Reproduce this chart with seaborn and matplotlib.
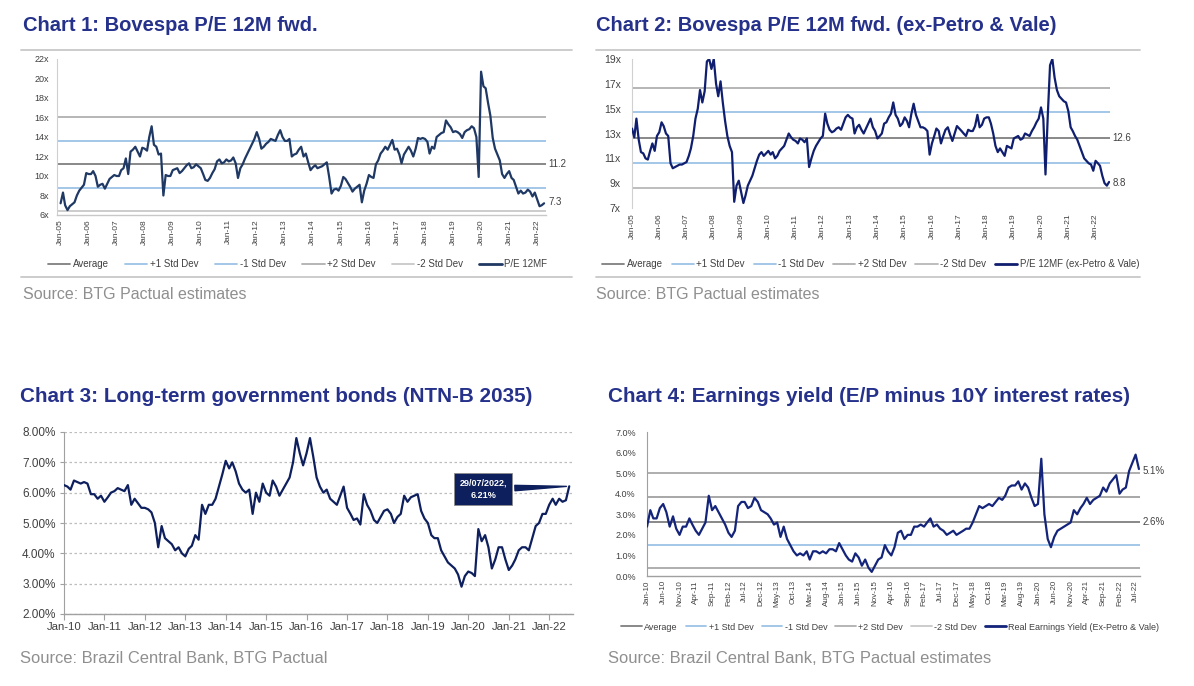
import numpy as np
import pandas as pd
import matplotlib
matplotlib.use('Agg')
import matplotlib.pyplot as plt
import matplotlib.dates as mdates
from matplotlib.lines import Line2D
from matplotlib.ticker import FuncFormatter
import seaborn as sns

sns.set_theme(style='white')
plt.rcParams['font.family'] = ['Liberation Sans', 'DejaVu Sans']

# ---------------- data (monthly) ----------------
# chart 1: Bovespa P/E 12M fwd, Jan-05 .. Apr-22
pe_bovespa = [
    7.2, 8.3, 7.0, 6.5, 6.9, 7.1, 7.3, 8.0, 8.5, 8.8, 9.1, 10.3,
    10.2, 10.2, 10.5, 10.0, 8.9, 9.1, 9.2, 8.7, 9.2, 9.7, 9.9, 10.1,
    10.0, 10.0, 10.6, 10.8, 11.8, 10.2, 12.5, 12.7, 13.0, 12.5, 12.0, 12.9,
    12.8, 12.6, 14.0, 15.1, 13.2, 13.0, 12.2, 12.3, 8.0, 10.1, 10.0, 10.0,
    10.6, 10.7, 10.8, 10.3, 10.5, 10.8, 11.1, 11.3, 10.8, 10.9, 11.2, 11.0,
    10.8, 10.2, 9.6, 9.5, 9.8, 10.3, 10.7, 11.5, 11.7, 11.3, 11.4, 11.7,
    11.5, 11.6, 11.9, 11.3, 9.8, 10.8, 11.2, 11.8, 12.3, 12.8, 13.3, 13.8,
    14.5, 13.8, 12.8, 13.0, 13.3, 13.5, 13.8, 13.7, 13.6, 14.2, 14.7, 14.0,
    13.6, 13.6, 13.8, 12.0, 12.2, 12.3, 12.7, 13.0, 12.0, 12.3, 11.4, 10.6,
    10.9, 11.1, 10.8, 10.9, 11.0, 11.2, 11.4, 9.9, 8.2, 8.6, 8.7, 8.5,
    9.0, 9.9, 9.7, 9.3, 8.9, 8.4, 8.7, 8.9, 9.1, 7.3, 8.5, 9.2,
    10.1, 9.9, 9.8, 11.2, 11.6, 12.3, 12.6, 13.0, 12.7, 13.2, 13.7, 12.7,
    12.8, 12.2, 11.3, 12.2, 12.6, 13.0, 12.6, 12.0, 12.8, 13.9, 13.8, 13.9,
    13.8, 13.5, 12.3, 13.0, 12.8, 14.0, 14.2, 14.4, 14.5, 15.7, 15.3, 15.0,
    14.5, 14.6, 14.5, 14.3, 13.9, 14.5, 14.7, 14.8, 15.1, 14.9, 14.0, 9.9,
    20.7, 19.2, 19.0, 17.5, 16.2, 13.9, 12.8, 12.2, 11.6, 10.2, 9.8, 10.2,
    10.5, 9.8, 9.6, 8.9, 8.2, 8.5, 8.2, 8.3, 8.6, 8.4, 7.9, 8.3,
    7.6, 6.9, 7.0, 7.2,
]
pe_bovespa_bands = [11.2, 13.6, 8.8, 16.0, 6.4]   # avg, +1sd, -1sd, +2sd, -2sd

# chart 2: Bovespa P/E 12M fwd ex-Petro & Vale, Jan-05 .. Jul-22
pe_ex_pv = [
    13.4, 12.7, 14.2, 12.5, 11.5, 11.4, 11.0, 10.9, 11.6, 12.2, 11.6, 12.8,
    13.1, 13.9, 13.6, 13.0, 12.8, 10.6, 10.2, 10.3, 10.4, 10.5, 10.5, 10.6,
    10.7, 11.2, 11.8, 12.8, 14.2, 15.0, 16.5, 15.5, 16.4, 18.8, 19.0, 18.2,
    19.0, 17.0, 16.0, 17.2, 15.5, 14.0, 12.8, 12.0, 11.5, 7.5, 8.8, 9.2,
    8.3, 7.4, 8.0, 8.8, 9.2, 9.6, 10.2, 10.8, 11.3, 11.5, 11.2, 11.4,
    11.6, 11.3, 11.5, 11.0, 11.2, 11.6, 11.8, 12.0, 12.5, 13.0, 12.7, 12.5,
    12.4, 12.2, 12.6, 12.5, 12.3, 12.6, 10.3, 11.0, 11.6, 12.0, 12.3, 12.6,
    12.8, 14.6, 13.8, 13.3, 13.1, 13.2, 13.4, 13.5, 13.3, 13.8, 14.3, 14.5,
    14.3, 14.2, 13.0, 13.5, 13.7, 13.3, 13.0, 13.4, 13.8, 14.2, 13.5, 13.2,
    12.6, 12.8, 13.0, 13.8, 13.9, 14.3, 14.6, 15.5, 14.5, 14.2, 13.6, 13.8,
    14.3, 14.0, 13.5, 14.6, 15.4, 14.5, 14.0, 13.5, 13.5, 13.4, 13.2, 11.3,
    12.2, 12.8, 13.4, 13.2, 12.2, 12.8, 13.3, 13.5, 12.9, 12.4, 13.0, 13.6,
    13.4, 13.2, 13.0, 12.8, 13.3, 13.2, 13.2, 13.6, 14.5, 13.5, 13.7, 14.2,
    14.3, 14.3, 13.8, 13.0, 12.0, 11.5, 11.8, 11.5, 11.2, 12.0, 11.9, 11.8,
    12.6, 12.7, 12.8, 12.5, 12.6, 13.0, 12.9, 12.8, 13.2, 13.5, 13.9, 14.2,
    15.1, 14.2, 9.7, 14.5, 18.5, 19.0, 17.5, 16.5, 16.0, 15.8, 15.6, 15.5,
    14.8, 13.5, 13.2, 12.8, 12.5, 12.0, 11.5, 11.0, 10.8, 10.6, 10.5, 10.0,
    10.8, 10.6, 10.4, 9.6, 9.0, 8.8, 9.1,
]
pe_ex_pv_bands = [12.6, 14.7, 10.6, 16.7, 8.6]

# chart 3: NTN-B 2035 yield (%), Jan-10 .. Jul-22
ntnb_2035 = [
    6.25, 6.2, 6.1, 6.4, 6.35, 6.3, 6.35, 6.3, 5.95, 5.95, 5.8, 5.9,
    5.7, 5.85, 6.0, 6.05, 6.15, 6.1, 6.05, 6.25, 5.6, 5.8, 5.65, 5.5,
    5.5, 5.45, 5.35, 5.0, 4.2, 4.9, 4.5, 4.4, 4.3, 4.1, 4.2, 4.0,
    3.9, 4.15, 4.25, 4.6, 4.45, 5.6, 5.3, 5.6, 5.6, 5.8, 6.2, 6.6,
    7.05, 6.8, 7.0, 6.7, 6.3, 6.1, 6.0, 6.1, 5.3, 6.0, 5.7, 6.3,
    6.0, 5.9, 6.4, 6.2, 5.9, 6.1, 6.3, 6.5, 7.0, 7.8, 7.3, 6.9,
    7.3, 7.8, 7.2, 6.5, 6.2, 6.0, 6.1, 5.8, 5.7, 5.6, 5.9, 6.2,
    5.5, 5.3, 5.1, 5.15, 4.95, 5.95, 5.6, 5.4, 5.1, 5.0, 5.2, 5.4,
    5.45, 5.3, 5.0, 5.2, 5.3, 5.9, 5.7, 5.85, 5.9, 5.95, 5.4, 5.15,
    5.0, 4.6, 4.5, 4.5, 4.1, 3.9, 3.7, 3.6, 3.5, 3.3, 2.9, 3.25,
    3.4, 3.35, 3.25, 4.8, 4.4, 4.6, 4.2, 3.5, 3.8, 4.2, 4.2, 3.8,
    3.45, 3.6, 3.8, 4.1, 4.2, 4.2, 4.1, 4.5, 4.9, 5.0, 5.3, 5.3,
    5.6, 5.8, 5.6, 5.8, 5.7, 5.75, 6.21,
]

# chart 4: real earnings yield (%), Jan-10 .. Aug-22
real_ey = [
    2.4, 3.2, 2.8, 2.8, 3.3, 3.5, 3.1, 2.4, 2.9, 2.3, 2.0, 2.4,
    2.4, 2.8, 2.5, 2.2, 2.0, 2.3, 2.6, 3.9, 3.2, 3.4, 3.1, 2.8,
    2.5, 2.1, 1.9, 2.2, 3.4, 3.6, 3.6, 3.3, 3.4, 3.8, 3.6, 3.2,
    3.1, 3.0, 2.8, 2.5, 2.6, 1.9, 2.4, 1.8, 1.5, 1.2, 1.0, 1.1,
    1.0, 1.2, 0.8, 1.2, 1.2, 1.1, 1.2, 1.1, 1.3, 1.3, 1.2, 1.6,
    1.3, 1.0, 0.8, 0.7, 1.1, 0.9, 0.5, 0.8, 0.4, 0.2, 0.5, 0.8,
    0.9, 1.5, 1.2, 1.0, 1.4, 2.1, 2.2, 1.8, 2.0, 2.0, 2.4, 2.4,
    2.5, 2.4, 2.6, 2.8, 2.4, 2.5, 2.3, 2.2, 2.0, 2.1, 2.2, 2.0,
    2.1, 2.2, 2.3, 2.3, 2.6, 3.0, 3.4, 3.3, 3.4, 3.5, 3.4, 3.6,
    3.8, 3.7, 3.9, 4.3, 4.4, 4.4, 4.6, 4.2, 4.5, 4.3, 3.8, 3.4,
    3.5, 5.7, 3.0, 1.8, 1.4, 1.9, 2.2, 2.3, 2.4, 2.5, 2.6, 3.2,
    3.0, 3.3, 3.5, 3.8, 3.5, 3.7, 3.8, 3.9, 4.3, 4.1, 4.5, 4.7,
    4.9, 4.0, 4.2, 4.3, 5.1, 5.5, 5.9, 5.2,
]
real_ey_bands = [2.64, 3.85, 1.53, 5.02, 0.40]

band_labels = ['Average', '+1 Std Dev', '-1 Std Dev', '+2 Std Dev', '-2 Std Dev']

# ---------------- layout helpers ----------------
W, H = 1194, 686
TITLE_C = '#25318A'
SRC_C = '#8F8F8F'
TXT = '#404040'
AVG_C = '#7F7F7F'
SD1_C = '#9DC3E6'
SD2_C = '#B0B0B0'


def rect(left, top, right, bottom):
    return [left / W, 1 - bottom / H, (right - left) / W, (bottom - top) / H]


def fy(y):
    return 1 - y / H


fig = plt.figure(figsize=(W / 100, H / 100), dpi=100)


def sep(x0, x1, y):
    fig.add_artist(Line2D([x0 / W, x1 / W], [fy(y), fy(y)], color='#C8C8C8', lw=1.3,
                          transform=fig.transFigure))


def header(x, y, title, source, ys, tsize=14.5, ssize=11.5):
    fig.text(x / W, fy(y), title, fontsize=tsize, fontweight='bold', color=TITLE_C, va='baseline')
    fig.text(x / W, fy(ys), source, fontsize=ssize, color=SRC_C, va='baseline')


def bands(ax, levels, colors):
    for lev, col in zip(levels, colors):
        ax.axhline(lev, color=col, lw=1.3, zorder=1)


def legend(ax, colors, line_c, last, x0, x1, y, fs, colspace):
    handles = [Line2D([], [], color=c, lw=1.3) for c in colors]
    handles.append(Line2D([], [], color=line_c, lw=2))
    ax.legend(handles, band_labels + [last], loc='center', ncol=6,
              bbox_to_anchor=((x0 + x1) / 2 / W, fy(y)), bbox_transform=fig.transFigure,
              frameon=False, fontsize=fs, handlelength=2.3, handletextpad=0.25,
              columnspacing=colspace, labelcolor=TXT)


def side_label(ax, text, yval, fs=7):
    ax.annotate(text, xy=(1, yval), xycoords=('axes fraction', 'data'), xytext=(2, 0),
                textcoords='offset points', va='center', ha='left', fontsize=fs, color=TXT)


def clean(ax, left_c='#D0D0D0', bottom=True):
    for s in ['top', 'right']:
        ax.spines[s].set_visible(False)
    ax.spines['left'].set_color(left_c)
    ax.spines['left'].set_linewidth(0.8)
    if bottom:
        ax.spines['bottom'].set_color('#C8C8C8')
        ax.spines['bottom'].set_linewidth(1.0)
    else:
        ax.spines['bottom'].set_visible(False)
    ax.set_xlabel('')
    ax.set_ylabel('')


# ---------------- chart 1 ----------------
band_cols = [AVG_C, SD1_C, SD1_C, SD2_C, '#C8C8C8']
d1 = pd.date_range('2005-01-01', periods=len(pe_bovespa), freq='MS')
ax1 = fig.add_axes(rect(57, 59, 546, 215))
bands(ax1, pe_bovespa_bands, band_cols)
sns.lineplot(x=d1, y=pe_bovespa, ax=ax1, color='#1F3864', lw=1.6, zorder=3)
ax1.set_xlim(pd.Timestamp('2004-11-15'), d1[-1] + pd.Timedelta(days=25))
ax1.set_ylim(6, 22)
ax1.set_yticks(np.arange(6, 23, 2))
ax1.yaxis.set_major_formatter(FuncFormatter(lambda v, p: f'{v:.0f}x'))
ax1.xaxis.set_major_locator(mdates.YearLocator())
ax1.xaxis.set_major_formatter(mdates.DateFormatter('%b-%y'))
ax1.tick_params(axis='x', length=0, pad=3, labelsize=6, labelcolor=TXT, labelrotation=90)
ax1.tick_params(axis='y', length=0, pad=6, labelsize=6.5, labelcolor=TXT)
clean(ax1)
side_label(ax1, '11.2', pe_bovespa_bands[0])
side_label(ax1, '7.3', 7.3)
legend(ax1, band_cols, '#1F3864', 'P/E 12MF', 47, 548, 264, 7, 1.7)
header(23, 31, 'Chart 1: Bovespa P/E 12M fwd.', 'Source: BTG Pactual estimates', 299)
sep(21, 572, 50)
sep(21, 572, 277)

# ---------------- chart 2 ----------------
band_cols2 = [AVG_C, SD1_C, SD1_C, SD2_C, '#B8B8B8']
d2 = pd.date_range('2005-01-01', periods=len(pe_ex_pv), freq='MS')
ax2 = fig.add_axes(rect(632, 59, 1110, 208))
bands(ax2, pe_ex_pv_bands, band_cols2)
sns.lineplot(x=d2, y=pe_ex_pv, ax=ax2, color='#0F1E6E', lw=1.6, zorder=3)
ax2.set_xlim(d2[0], d2[-1] + pd.Timedelta(days=12))
ax2.set_ylim(7, 19)
ax2.set_yticks(np.arange(7, 20, 2))
ax2.yaxis.set_major_formatter(FuncFormatter(lambda v, p: f'{v:.0f}x'))
ax2.xaxis.set_major_locator(mdates.YearLocator())
ax2.xaxis.set_major_formatter(mdates.DateFormatter('%b-%y'))
ax2.tick_params(axis='x', length=0, pad=4, labelsize=6, labelcolor=TXT, labelrotation=90)
ax2.tick_params(axis='y', length=0, pad=8, labelsize=7.5, labelcolor=TXT)
clean(ax2, bottom=False)
side_label(ax2, '12.6', pe_ex_pv_bands[0])
side_label(ax2, '8.8', 9.0)
legend(ax2, band_cols2, '#0F1E6E', 'P/E 12MF (ex-Petro & Vale)', 605, 1136, 264, 7, 0.9)
header(596, 31, 'Chart 2: Bovespa P/E 12M fwd. (ex-Petro & Vale)', 'Source: BTG Pactual estimates', 299)
sep(596, 1140, 50)
sep(596, 1140, 277)

# ---------------- chart 3 ----------------
d3 = pd.date_range('2010-01-01', periods=len(ntnb_2035), freq='MS')
ax3 = fig.add_axes(rect(64, 432, 573, 614))
sns.lineplot(x=d3, y=ntnb_2035, ax=ax3, color='#0E1F5E', lw=1.6, zorder=3)
ax3.set_xlim(d3[0], pd.Timestamp('2022-08-04'))
ax3.set_ylim(2, 8)
ax3.set_yticks(np.arange(2, 9, 1))
ax3.yaxis.set_major_formatter(FuncFormatter(lambda v, p: f'{v:.2f}%'))
ax3.xaxis.set_major_locator(mdates.YearLocator())
ax3.xaxis.set_major_formatter(mdates.DateFormatter('%b-%y'))
ax3.yaxis.grid(True, linestyle=(0, (2, 2)), color='#BDBDBD', lw=0.9)
ax3.xaxis.grid(False)
ax3.tick_params(axis='x', length=4, width=0.8, color='#A0A0A0', pad=2, labelsize=8.2,
                labelcolor=TXT, direction='out', bottom=True)
ax3.tick_params(axis='y', length=3, width=0.8, color='#A0A0A0', pad=3, labelsize=8.5,
                labelcolor=TXT, direction='out', left=True)
clean(ax3, left_c='#A0A0A0')
ax3.spines['bottom'].set_color('#A0A0A0')
ax3.annotate('29/07/2022,\n6.21%', xy=(d3[-1], ntnb_2035[-1]), xytext=(-62, -2),
             textcoords='offset points', ha='center', va='center', color='white',
             fontsize=6.5, fontweight='bold', linespacing=1.5,
             bbox=dict(boxstyle='square,pad=0.55', fc='#0D1F5C', ec='#8C8C8C', lw=0.6),
             arrowprops=dict(arrowstyle='wedge,tail_width=0.6', fc='#0D1F5C', ec='#0D1F5C'))
header(20, 402, 'Chart 3: Long-term government bonds (NTN-B 2035)',
       'Source: Brazil Central Bank, BTG Pactual', 663, tsize=14.9, ssize=11.9)

# ---------------- chart 4 ----------------
band_cols4 = [AVG_C, '#A0A0A0', SD1_C, '#A8A8A8', '#A8A8A8']
d4 = pd.date_range('2010-01-01', periods=len(real_ey), freq='MS')
ax4 = fig.add_axes(rect(647, 432, 1140, 576))
bands(ax4, real_ey_bands, band_cols4)
sns.lineplot(x=d4, y=real_ey, ax=ax4, color='#13247A', lw=1.6, zorder=3)
ax4.set_xlim(d4[0], d4[-1] + pd.Timedelta(days=10))
ax4.set_ylim(0, 7)
ax4.set_yticks(np.arange(0, 8, 1))
ax4.yaxis.set_major_formatter(FuncFormatter(lambda v, p: f'{v:.1f}%'))
ax4.set_xticks(pd.date_range('2010-01-01', '2022-07-01', freq='5MS'))
ax4.xaxis.set_major_formatter(mdates.DateFormatter('%b-%y'))
ax4.tick_params(axis='x', length=0, pad=3, labelsize=5.8, labelcolor=TXT, labelrotation=90)
ax4.tick_params(axis='y', length=0, pad=8, labelsize=6.5, labelcolor=TXT)
clean(ax4, left_c='#A0A0A0')
ax4.spines['bottom'].set_color('#A0A0A0')
side_label(ax4, '5.1%', 5.1)
side_label(ax4, '2.6%', real_ey_bands[0])
legend(ax4, [AVG_C, SD1_C, SD1_C, SD2_C, '#C8C8C8'], '#13247A',
       'Real Earnings Yield (Ex-Petro & Vale)', 617, 1163, 627, 6.5, 0.9)
header(608, 402, 'Chart 4: Earnings yield (E/P minus 10Y interest rates)',
       'Source: Brazil Central Bank, BTG Pactual estimates', 663, tsize=14.9, ssize=11.9)

fig.savefig('out.png', dpi=100)
